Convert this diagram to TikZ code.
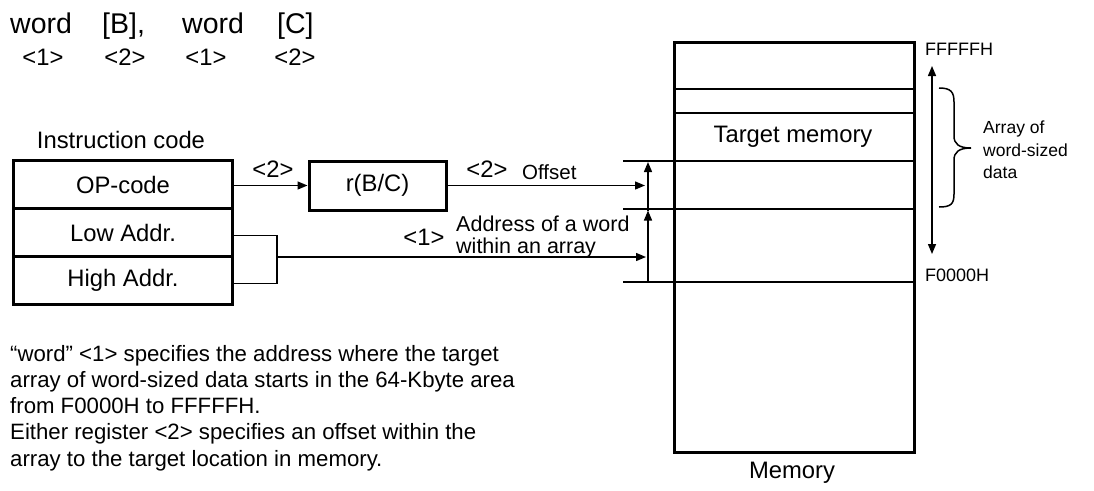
\documentclass[tikz,border=0pt]{standalone}
\usepackage{fontspec}
\setmainfont{Liberation Sans}
\usetikzlibrary{arrows.meta}
\newcommand\fsz[1]{\fontsize{#1}{#1}\selectfont}
\tikzset{
  thickbox/.style={draw, line width=3pt, inner sep=0pt, minimum width=219pt, minimum height=48pt, anchor=north west, font=\fsz{23.8}},
  txt/.style={inner sep=0pt, font=\fsz{23.8}},
  para/.style={inner sep=0pt, font=\fsz{22.2}},
  lbl/.style={inner sep=0pt, font=\fsz{21.5}},
  small/.style={inner sep=0pt, font=\fsz{18}},
  arr/.style={line width=1.4pt, -{Triangle[length=10pt,width=8pt]}},
  dbl/.style={line width=1.4pt, {Triangle[length=10pt,width=8pt]}-{Triangle[length=10pt,width=8pt]}},
  thin/.style={line width=1.4pt},
  mid/.style={line width=2.2pt}
}
\begin{document}
\begin{tikzpicture}[x=1pt,y=-1pt]
\useasboundingbox[fill=white] (0,0) rectangle (1094,490);

% top instruction text
\node[inner sep=0pt, font=\fsz{28.5}, anchor=base west] (w1) at (10,33) {word};
\node[inner sep=0pt, font=\fsz{28.5}, anchor=base west] (b1) at (102,33) {[B],};
\node[inner sep=0pt, font=\fsz{28.5}, anchor=base west] (w2) at (182,33) {word};
\node[inner sep=0pt, font=\fsz{28.5}, anchor=base west] (c1) at (277,33) {[C]};
\node[txt, anchor=base] (n1) at (43,65) {<1>};
\node[txt, anchor=base] (n2) at (125,65) {<2>};
\node[txt, anchor=base] (n3) at (206,65) {<1>};
\node[txt, anchor=base] (n4) at (295,65) {<2>};

% instruction code
\node[txt, anchor=base] (ic) at (121,148) {Instruction code};
\node[thickbox] (opcode) at (12,159) {OP-code};
\node[thickbox] (low) at (12,207) {Low Addr.};
\node[thickbox] (high) at (12,255) {High Addr.};

% register
\node[draw, line width=3pt, inner sep=0pt, minimum width=137pt, minimum height=49pt, font=\fsz{23.8}] (rbc) at (377.5,185.5) {r(B/C)};

% memory
\node[draw, line width=3pt, inner sep=0pt, minimum width=240pt, minimum height=410pt, anchor=north west] (mem) at (673,41) {};
\node[txt] (tm) at (793,137) {Target memory};
\node[txt, anchor=base] (memlbl) at (792,478) {Memory};

\coordinate (l89a) at (673,89);  \coordinate (l89b) at (913,89);
\coordinate (l113a) at (673,113); \coordinate (l113b) at (913,113);
\coordinate (l161a) at (623,161); \coordinate (l161b) at (913,161);
\coordinate (l209a) at (623,209); \coordinate (l209b) at (913,209);
\coordinate (l282a) at (623,282); \coordinate (l282b) at (913,282);
\draw[mid] (l89a) -- (l89b);
\draw[mid] (l113a) -- (l113b);
\draw[mid] (l161a) -- (l161b);
\draw[mid] (l209a) -- (l209b);
\draw[mid] (l282a) -- (l282b);

% connectors
\draw[arr] (opcode.east |- rbc.west) -- (rbc.west);
\node[txt] (lab2a) at (273,169) {<2>};

\coordinate (offend) at (645,185.5);
\draw[arr] (rbc.east) -- (offend);
\node[txt] (lab2b) at (487,169) {<2>};
\node[inner sep=0pt, font=\fsz{20.5}, anchor=base west] (offs) at (522,179) {Offset};

\coordinate (bx) at (277,257);
\coordinate (addrend) at (646,257);
\draw[thin] ([yshift=-3pt]low.east) -| (bx) |- ([yshift=-3pt]high.east);
\draw[arr] (bx) -- (addrend);
\node[txt] (lab1) at (424,237) {<1>};
\node[lbl, anchor=base west] (addr1) at (456,231) {Address of a word};
\node[lbl, anchor=base west] (addr2) at (456,253) {within an array};

\coordinate (va) at (648,282);
\coordinate (vb) at (648,210.5);
\coordinate (vc) at (648,162);
\draw[arr] (va) -- (vb);
\draw[arr] (vb) -- (vc);

% right side
\node[small, anchor=base west] (ff) at (925,55) {FFFFFH};
\node[small, anchor=base west] (f0) at (925,281) {F0000H};
\coordinate (da) at (932,66);
\coordinate (db) at (932,254);
\draw[dbl] (db) -- (da);
\draw[line width=1.5pt] (939,88) .. controls (951,88) and (954,92) .. (954,102) -- (954,136)
  .. controls (954,144) and (959,148) .. (971,148)
  .. controls (959,148) and (954,152) .. (954,160) -- (954,194)
  .. controls (954,204) and (951,207) .. (939,207);
\node[inner sep=0pt, font=\fsz{17.5}, anchor=base west] (ar1) at (983,133) {Array of};
\node[inner sep=0pt, font=\fsz{17.5}, anchor=base west] (ar2) at (983,156) {word-sized};
\node[inner sep=0pt, font=\fsz{17.5}, anchor=base west] (ar3) at (983,178) {data};

% paragraph
\node[para, anchor=base west] (p1) at (10,361) {``word'' <1> specifies the address where the target};
\node[para, anchor=base west] (p2) at (10,387) {array of word-sized data starts in the 64-Kbyte area};
\node[para, anchor=base west] (p3) at (10,413) {from F0000H to FFFFFH.};
\node[para, anchor=base west] (p4) at (10,439) {Either register <2> specifies an offset within the};
\node[para, anchor=base west] (p5) at (10,466) {array to the target location in memory.};
\end{tikzpicture}
\end{document}
